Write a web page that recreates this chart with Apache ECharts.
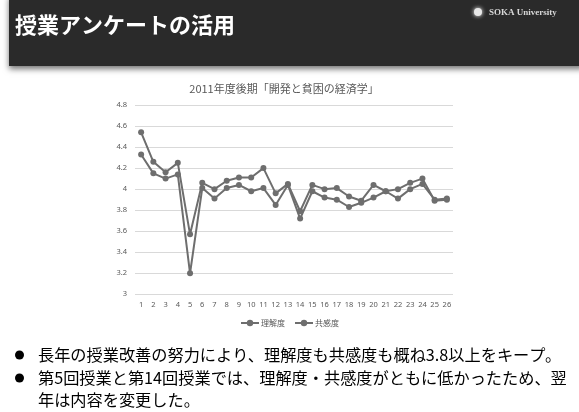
<!DOCTYPE html>
<html><head><meta charset="utf-8">
<script src="https://cdn.jsdelivr.net/npm/echarts@6/dist/echarts.min.js"></script>
<style>html,body{margin:0;padding:0;background:#fff}#c{width:579px;height:412px}</style>
</head><body><div id="c"></div>
<script>
const categories = ['1','2','3','4','5','6','7','8','9','10','11','12','13','14','15','16','17','18','19','20','21','22','23','24','25','26'];
const rikaido = [4.54, 4.26, 4.16, 4.25, 3.57, 4.06, 4.00, 4.08, 4.11, 4.11, 4.20, 3.96, 4.05, 3.79, 4.04, 4.00, 4.01, 3.93, 3.89, 4.04, 3.98, 3.91, 4.00, 4.05, 3.90, 3.91];
const kyokando = [4.33, 4.15, 4.10, 4.14, 3.20, 4.01, 3.91, 4.01, 4.04, 3.98, 4.01, 3.85, 4.04, 3.72, 3.98, 3.92, 3.90, 3.83, 3.87, 3.92, 3.98, 4.00, 4.06, 4.10, 3.89, 3.90];
const seriesNames = ['理解度', '共感度'];
const slideTitle = '授業アンケートの活用';
const chartTitle = '2011年度後期「開発と貧困の経済学」';
const bullets = [
  ['長年の授業改善の努力により、理解度も共感度も概ね3.8以上をキープ。'],
  ['第5回授業と第14回授業では、理解度・共感度がともに低かったため、翌', '年は内容を変更した。']
];
const logoText = 'SOKA University';

const JP = '"Noto Sans CJK JP", "Noto Sans", sans-serif';
const chart = echarts.init(document.getElementById('c'), null, {renderer: 'canvas'});

const graphics = [
  {type: 'rect', shape: {x: 9, y: -5, width: 575, height: 71},
   style: {fill: '#2a2a2a', shadowBlur: 6, shadowColor: 'rgba(0,0,0,0.55)', shadowOffsetY: 3}, z: 1},
  {type: 'text', x: 15, y: 25, z: 2,
   style: {text: slideTitle, fill: '#ffffff', font: 'bold 22px ' + JP, textVerticalAlign: 'middle'}},
  {type: 'circle', shape: {cx: 478, cy: 12, r: 4}, style: {fill: '#e8e8e8', shadowBlur: 4, shadowColor: '#fff'}, z: 2},
  {type: 'text', x: 489, y: 13, z: 2,
   style: {text: logoText, fill: '#d8d8d8', font: 'bold 9px "Liberation Serif", serif', textVerticalAlign: 'middle'}},
  {type: 'text', x: 284, y: 89, z: 2,
   style: {text: chartTitle, fill: '#595959', font: '11px ' + JP, textAlign: 'center', textVerticalAlign: 'middle'}}
];
const lineYs = [355, 378, 400];
let li = 0;
bullets.forEach(function (b) {
  graphics.push({type: 'circle', shape: {cx: 19.5, cy: lineYs[li], r: 4.5}, style: {fill: '#000'}, z: 2});
  b.forEach(function (t) {
    graphics.push({type: 'text', x: 38, y: lineYs[li], z: 2,
      style: {text: t, fill: '#000', font: '16.2px ' + JP, textVerticalAlign: 'middle'}});
    li++;
  });
});

chart.setOption({
  animation: false,
  backgroundColor: '#fff',
  graphic: graphics,
  grid: {left: 135, right: 126, top: 105, bottom: 117.7, containLabel: false},
  legend: {
    data: seriesNames, top: 314, left: 'center', itemWidth: 18, itemHeight: 8, itemGap: 9,
    textStyle: {fontSize: 8, color: '#595959', fontFamily: JP, padding: [0, 0, 0, -3]}
  },
  xAxis: {
    type: 'category', data: categories, boundaryGap: true,
    axisLine: {show: false}, axisTick: {show: false},
    axisLabel: {fontSize: 7.5, color: '#595959', margin: 7, interval: 0, fontFamily: '"Noto Sans", sans-serif'}
  },
  yAxis: {
    type: 'value', min: 3, max: 4.8, interval: 0.2,
    axisLine: {show: false}, axisTick: {show: false},
    axisLabel: {fontSize: 7.5, color: '#595959', margin: 8, fontFamily: '"Noto Sans", sans-serif',
      formatter: function (v) { return String(Math.round(v * 10) / 10); }},
    splitLine: {lineStyle: {color: '#d9d9d9', width: 1}}
  },
  series: [
    {name: seriesNames[0], type: 'line', data: rikaido, symbol: 'circle', symbolSize: 6,
     lineStyle: {color: '#6e6e6e', width: 2}, itemStyle: {color: '#6e6e6e'}},
    {name: seriesNames[1], type: 'line', data: kyokando, symbol: 'circle', symbolSize: 6,
     lineStyle: {color: '#6e6e6e', width: 2}, itemStyle: {color: '#6e6e6e'}}
  ]
});
</script></body></html>
